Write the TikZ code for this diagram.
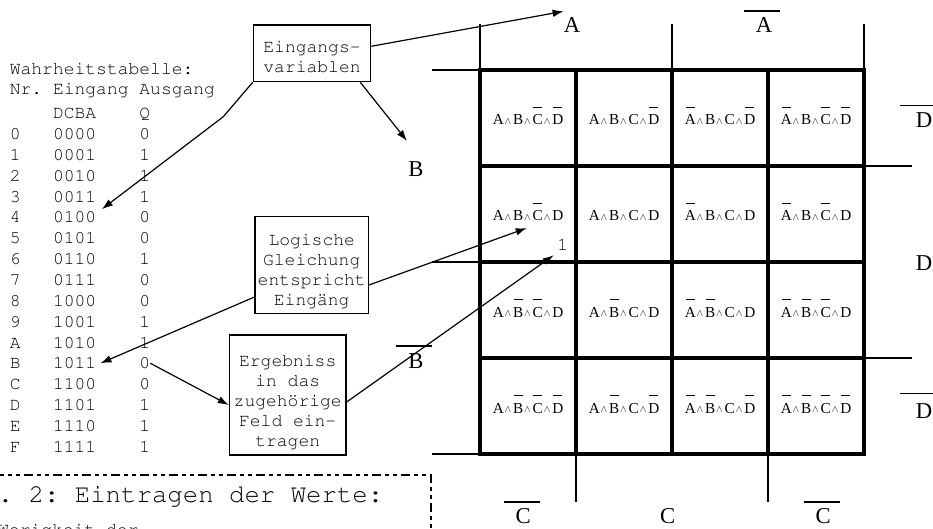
\documentclass[tikz,border=0pt]{standalone}
\usepackage[T1]{fontenc}
\usepackage{fontspec}
\setmainfont{Liberation Serif}
\usepackage{tikz}
\usetikzlibrary{arrows.meta}

\newcommand\cour{\fontencoding{T1}\fontfamily{pcr}\selectfont}
\newcommand\und{\hspace{0.06em}\raisebox{0.05em}{\fontsize{10}{10}\selectfont$\wedge$}\hspace{0.12em}}
\newcommand\nt[1]{\setbox0\hbox{#1}\rlap{\hbox to\wd0{\hss\rule[1.12em]{0.85\wd0}{1.1pt}\hss}}\box0}

\begin{document}
\begin{tikzpicture}[x=1pt, y=-1pt,
    tt/.style={font=\cour\fontsize{18}{20}\selectfont\frenchspacing, inner sep=0pt, anchor=base west},
    box/.style={draw, line width=1.2pt, font=\cour\fontsize{18}{20}\selectfont, align=center, inner sep=0pt, text depth=0pt},
    lbl/.style={font=\fontsize{22.7}{24}\selectfont, inner sep=0pt, anchor=base},
    term/.style={font=\fontsize{15.2}{16}\selectfont, inner sep=0pt, anchor=base},
    pfeil/.style={line width=1.2pt, -{Latex[length=11pt,width=7.5pt]}},
    dick/.style={line width=3.2pt},
    duenn/.style={line width=1.2pt},
    strich/.style={line width=1.3pt}]
\useasboundingbox (0,0) rectangle (933,529);
\clip (0,0) rectangle (933,529);

\node[tt] (ttl) at (9.6,75) {Wahrheitstabelle:};
\node[tt] (hdr) at (9.6,95) {Nr. Eingang Ausgang};
\node[tt] (hcode) at (52.8,118.5) {DCBA};
\node[tt] (hq) at (139.2,118.5) {Q};
\node[tt] (n0) at (9.6,139.5) {0}; \node[tt] (c0) at (52.8,139.5) {0000}; \node[tt] (q0) at (139.2,139.5) {0};
\node[tt] (n1) at (9.6,160.4) {1}; \node[tt] (c1) at (52.8,160.4) {0001}; \node[tt] (q1) at (139.2,160.4) {1};
\node[tt] (n2) at (9.6,181.2) {2}; \node[tt] (c2) at (52.8,181.2) {0010}; \node[tt] (q2) at (139.2,181.2) {1};
\node[tt] (n3) at (9.6,202.1) {3}; \node[tt] (c3) at (52.8,202.1) {0011}; \node[tt] (q3) at (139.2,202.1) {1};
\node[tt] (n4) at (9.6,222.9) {4}; \node[tt] (c4) at (52.8,222.9) {0100}; \node[tt] (q4) at (139.2,222.9) {0};
\node[tt] (n5) at (9.6,243.8) {5}; \node[tt] (c5) at (52.8,243.8) {0101}; \node[tt] (q5) at (139.2,243.8) {0};
\node[tt] (n6) at (9.6,264.6) {6}; \node[tt] (c6) at (52.8,264.6) {0110}; \node[tt] (q6) at (139.2,264.6) {1};
\node[tt] (n7) at (9.6,285.5) {7}; \node[tt] (c7) at (52.8,285.5) {0111}; \node[tt] (q7) at (139.2,285.5) {0};
\node[tt] (n8) at (9.6,306.3) {8}; \node[tt] (c8) at (52.8,306.3) {1000}; \node[tt] (q8) at (139.2,306.3) {0};
\node[tt] (n9) at (9.6,327.2) {9}; \node[tt] (c9) at (52.8,327.2) {1001}; \node[tt] (q9) at (139.2,327.2) {1};
\node[tt] (nA) at (9.6,348.0) {A}; \node[tt] (cA) at (52.8,348.0) {1010}; \node[tt] (qA) at (139.2,348.0) {1};
\node[tt] (nB) at (9.6,368.9) {B}; \node[tt] (cB) at (52.8,368.9) {1011}; \node[tt] (qB) at (139.2,368.9) {0};
\node[tt] (nC) at (9.6,389.7) {C}; \node[tt] (cC) at (52.8,389.7) {1100}; \node[tt] (qC) at (139.2,389.7) {0};
\node[tt] (nD) at (9.6,410.6) {D}; \node[tt] (cD) at (52.8,410.6) {1101}; \node[tt] (qD) at (139.2,410.6) {1};
\node[tt] (nE) at (9.6,431.4) {E}; \node[tt] (cE) at (52.8,431.4) {1110}; \node[tt] (qE) at (139.2,431.4) {1};
\node[tt] (nF) at (9.6,452.3) {F}; \node[tt] (cF) at (52.8,452.3) {1111}; \node[tt] (qF) at (139.2,452.3) {1};

\node[box, minimum width=117.3, minimum height=56.7, text height=38pt] (ein) at (312,53.3) {Eingangs-\\variablen};
\node[box, minimum width=113.3, minimum height=96.6, text height=80pt] (lg) at (311.7,265) {Logische\\Gleichung\\entspricht\\Eingäng};
\node[box, minimum width=116.7, minimum height=120, text height=103pt] (erg) at (287.7,395) {Ergebniss\\in das\\zugehörige\\Feld ein-\\tragen};

\draw[dick] (480,70) rectangle (864,454);
\draw[dick] (576,70) -- (576,454) (672,70) -- (672,454) (768,70) -- (768,454);
\draw[dick] (480,166) -- (864,166) (480,262) -- (864,262) (480,358) -- (864,358);
\draw[duenn] (432,70) -- (480,70) (432,262) -- (480,262) (432,454) -- (480,454);
\draw[duenn] (480,24.5) -- (480,70) (672,24.5) -- (672,70) (864,24.5) -- (864,70);
\draw[duenn] (864,166) -- (912,166) (864,358) -- (912,358);
\draw[duenn] (576,454) -- (576,502) (768,454) -- (768,502);

\node[lbl] (labA) at (572,32.5) {A};
\node[lbl] (labAn) at (764,32.5) {A};
\node[lbl] (labB) at (416,177) {B};
\node[lbl] (labBn) at (416,368) {B};
\node[lbl] (labDo) at (924,127.7) {D};
\node[lbl] (labD) at (924,270) {D};
\node[lbl] (labDu) at (924,418.3) {D};
\node[lbl] (labCl) at (523.3,523.3) {C};
\node[lbl] (labC) at (667.7,523.3) {C};
\node[lbl] (labCr) at (823.3,523.3) {C};
\draw[strich] ([xshift=-20pt,yshift=6.4pt]labAn.north) -- ([xshift=16pt,yshift=6.4pt]labAn.north);
\draw[strich] ([xshift=-20pt,yshift=7pt]labBn.north) -- ([xshift=16pt,yshift=7pt]labBn.north);
\draw[strich] ([xshift=-24pt,yshift=7pt]labDo.north) -- ([xshift=12pt,yshift=7pt]labDo.north);
\draw[strich] ([xshift=-24pt,yshift=10pt]labDu.north) -- ([xshift=12pt,yshift=10pt]labDu.north);
\draw[strich] ([xshift=-19.3pt,yshift=6pt]labCl.north) -- ([xshift=16.7pt,yshift=6pt]labCl.north);
\draw[strich] ([xshift=-19.3pt,yshift=6pt]labCr.north) -- ([xshift=16.7pt,yshift=6pt]labCr.north);

\node[term] (k11) at (528,125) {A\und B\und\nt{C}\und\nt{D}};
\node[term] (k12) at (624,125) {A\und B\und C\und\nt{D}};
\node[term] (k13) at (720,125) {\nt{A}\und B\und C\und\nt{D}};
\node[term] (k14) at (816,125) {\nt{A}\und B\und\nt{C}\und\nt{D}};
\node[term] (k21) at (528,221) {A\und B\und\nt{C}\und D};
\node[term] (k22) at (624,221) {A\und B\und C\und D};
\node[term] (k23) at (720,221) {\nt{A}\und B\und C\und D};
\node[term] (k24) at (816,221) {\nt{A}\und B\und\nt{C}\und D};
\node[term] (k31) at (528,317) {A\und\nt{B}\und\nt{C}\und D};
\node[term] (k32) at (624,317) {A\und\nt{B}\und C\und D};
\node[term] (k33) at (720,317) {\nt{A}\und\nt{B}\und C\und D};
\node[term] (k34) at (816,317) {\nt{A}\und\nt{B}\und\nt{C}\und D};
\node[term] (k41) at (528,413) {A\und\nt{B}\und\nt{C}\und\nt{D}};
\node[term] (k42) at (624,413) {A\und\nt{B}\und C\und\nt{D}};
\node[term] (k43) at (720,413) {\nt{A}\und\nt{B}\und C\und\nt{D}};
\node[term] (k44) at (816,413) {\nt{A}\und\nt{B}\und\nt{C}\und\nt{D}};
\node[tt, anchor=base] (one) at (562.8,250.5) {1};

\coordinate (knick) at (223.3,116.7);
\draw[pfeil] (ein.south west) -- (knick) -- ([xshift=5.5pt,yshift=2pt]c4.north east);
\draw[pfeil] ([yshift=7pt]ein.east) -- ([yshift=6pt]labA.north west);
\draw[pfeil] ([xshift=-11pt]ein.south east) -- ([xshift=-9pt,yshift=21pt]labB.north);
\draw[pfeil] ([yshift=-32pt]lg.west) -- ([xshift=4pt]cB.east);
\draw[pfeil] ([yshift=-20pt]lg.east) -- ([xshift=-1.3pt,yshift=-6.7pt]k21.south);
\draw[pfeil] (qB.east) -- ([yshift=-10pt]erg.west);
\draw[pfeil] ([yshift=-7pt]erg.east) -- ([xshift=-3.5pt,yshift=-4.5pt]one.south west);

\draw[line width=2.4pt, dash pattern=on 9pt off 4pt on 4pt off 4pt on 4pt off 4pt] (-5,475) -- (430.7,475) -- (430.7,540);
\node[tt, font=\cour\fontsize{25.7}{27}\selectfont\frenchspacing] (titel) at (-2.4,502.7) {. 2: Eintragen der Werte:};
\node[tt] (wert) at (-2,535) {Werigkeit der};
\end{tikzpicture}
\end{document}
